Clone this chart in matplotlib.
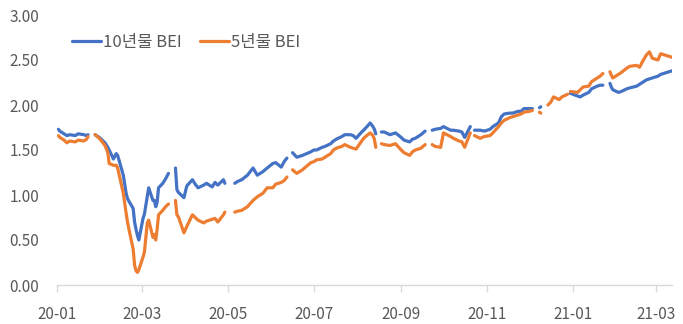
import matplotlib
matplotlib.use("Agg")
import matplotlib.pyplot as plt
import matplotlib.dates as mdates
import numpy as np
import pandas as pd

nan = np.nan

dates = [
    "2020-01-02", "2020-01-03", "2020-01-06", "2020-01-08", "2020-01-10", "2020-01-14", "2020-01-16",
    "2020-01-20", "2020-01-22", "2020-01-23", "2020-01-24", "2020-01-28", "2020-01-31", "2020-02-04",
    "2020-02-06", "2020-02-07", "2020-02-10", "2020-02-12", "2020-02-13", "2020-02-17", "2020-02-19",
    "2020-02-20", "2020-02-21", "2020-02-24", "2020-02-25", "2020-02-26", "2020-02-27", "2020-02-28",
    "2020-03-02", "2020-03-03", "2020-03-05", "2020-03-06", "2020-03-09", "2020-03-10", "2020-03-11",
    "2020-03-12", "2020-03-13", "2020-03-16", "2020-03-18", "2020-03-20", "2020-03-23", "2020-03-25",
    "2020-03-26", "2020-03-27", "2020-03-31", "2020-04-02", "2020-04-06", "2020-04-08", "2020-04-10",
    "2020-04-14", "2020-04-16", "2020-04-20", "2020-04-22", "2020-04-24", "2020-04-28", "2020-04-29",
    "2020-04-30", "2020-05-06", "2020-05-08", "2020-05-11", "2020-05-15", "2020-05-19", "2020-05-22",
    "2020-05-26", "2020-05-29", "2020-06-02", "2020-06-04", "2020-06-08", "2020-06-10", "2020-06-12",
    "2020-06-15", "2020-06-16", "2020-06-19", "2020-06-23", "2020-06-26", "2020-06-29", "2020-07-01",
    "2020-07-03", "2020-07-07", "2020-07-09", "2020-07-13", "2020-07-15", "2020-07-17", "2020-07-21",
    "2020-07-23", "2020-07-27", "2020-07-29", "2020-07-31", "2020-08-04", "2020-08-06", "2020-08-10",
    "2020-08-12", "2020-08-13", "2020-08-14", "2020-08-17", "2020-08-18", "2020-08-20", "2020-08-24",
    "2020-08-26", "2020-08-28", "2020-09-01", "2020-09-03", "2020-09-07", "2020-09-09", "2020-09-11",
    "2020-09-15", "2020-09-18", "2020-09-21", "2020-09-23", "2020-09-25", "2020-09-29", "2020-10-01",
    "2020-10-06", "2020-10-08", "2020-10-12", "2020-10-14", "2020-10-16", "2020-10-20", "2020-10-21",
    "2020-10-23", "2020-10-27", "2020-10-30", "2020-11-03", "2020-11-05", "2020-11-09", "2020-11-11",
    "2020-11-13", "2020-11-17", "2020-11-19", "2020-11-23", "2020-11-25", "2020-11-27", "2020-12-01",
    "2020-12-03", "2020-12-04", "2020-12-08", "2020-12-09", "2020-12-10", "2020-12-14", "2020-12-16",
    "2020-12-18", "2020-12-22", "2020-12-24", "2020-12-28", "2020-12-29", "2020-12-30", "2021-01-04",
    "2021-01-06", "2021-01-08", "2021-01-12", "2021-01-14", "2021-01-18", "2021-01-20", "2021-01-22",
    "2021-01-25", "2021-01-27", "2021-01-28", "2021-01-29", "2021-02-02", "2021-02-04", "2021-02-08",
    "2021-02-10", "2021-02-15", "2021-02-17", "2021-02-19", "2021-02-22", "2021-02-24", "2021-02-26",
    "2021-03-02", "2021-03-04", "2021-03-08", "2021-03-10", "2021-03-12",
]

bei10 = [
    1.73, 1.71, 1.68, 1.66, 1.67, 1.66, 1.68,
    1.67, 1.66, 1.67, nan, 1.67, 1.64, 1.58,
    1.53, 1.50, 1.40, 1.46, 1.44, 1.22, 1.02,
    0.96, 0.93, 0.85, 0.70, 0.62, 0.55, 0.50,
    0.74, 0.79, 0.98, 1.08, 0.94, 0.94, 0.87,
    0.92, 1.08, 1.13, 1.18, 1.24, nan, 1.30,
    1.06, 1.03, 0.97, 1.10, 1.17, 1.12, 1.08,
    1.11, 1.13, 1.09, 1.14, 1.11, 1.17, 1.13,
    nan, 1.13, 1.15, 1.17, 1.22, 1.30, 1.22,
    1.26, 1.30, 1.35, 1.36, 1.31, 1.37, 1.41,
    nan, 1.47, 1.42, 1.44, 1.46, 1.48, 1.50,
    1.50, 1.53, 1.54, 1.57, 1.60, 1.62, 1.65,
    1.67, 1.67, 1.66, 1.63, 1.70, 1.73, 1.80,
    1.76, 1.73, 1.68, nan, 1.70, 1.70, 1.67,
    1.68, 1.69, 1.64, 1.61, 1.59, 1.62, 1.63,
    1.67, 1.71, nan, 1.72, 1.73, 1.74, 1.76,
    1.72, 1.72, 1.71, 1.70, 1.64, 1.76, nan,
    1.72, 1.72, 1.71, 1.73, 1.76, 1.80, 1.87,
    1.90, 1.91, 1.91, 1.93, 1.93, 1.96, 1.96,
    1.96, nan, 1.97, 1.98, nan, nan, nan,
    nan, nan, nan, nan, nan, 2.13, 2.10,
    2.09, 2.11, 2.14, 2.18, 2.21, 2.22, 2.22,
    nan, 2.24, 2.20, 2.17, 2.14, 2.15, 2.18,
    2.19, 2.21, 2.23, 2.25, 2.28, 2.29, 2.30,
    2.32, 2.34, 2.36, 2.37, 2.38,
]

bei5 = [
    1.66, 1.64, 1.61, 1.58, 1.60, 1.59, 1.61,
    1.60, 1.62, 1.65, nan, 1.67, 1.63, 1.55,
    1.47, 1.35, 1.33, 1.33, 1.30, 1.02, 0.80,
    0.70, 0.62, 0.40, 0.22, 0.16, 0.14, 0.17,
    0.31, 0.37, 0.69, 0.72, 0.53, 0.56, 0.50,
    0.62, 0.78, 0.83, 0.87, 0.90, nan, 0.94,
    0.78, 0.76, 0.58, 0.65, 0.78, 0.75, 0.72,
    0.69, 0.71, 0.73, 0.74, 0.70, 0.78, 0.81,
    nan, 0.81, 0.82, 0.83, 0.87, 0.94, 0.98,
    1.02, 1.08, 1.08, 1.12, 1.14, 1.16, 1.20,
    nan, 1.28, 1.24, 1.28, 1.32, 1.36, 1.37,
    1.39, 1.40, 1.42, 1.46, 1.50, 1.52, 1.54,
    1.56, 1.53, 1.52, 1.51, 1.60, 1.64, 1.69,
    1.66, 1.62, 1.53, nan, 1.57, 1.56, 1.55,
    1.56, 1.57, 1.50, 1.47, 1.44, 1.48, 1.50,
    1.52, 1.56, nan, 1.56, 1.54, 1.53, 1.69,
    1.65, 1.63, 1.60, 1.59, 1.53, 1.69, nan,
    1.66, 1.63, 1.65, 1.66, 1.69, 1.76, 1.80,
    1.83, 1.86, 1.87, 1.89, 1.90, 1.92, 1.93,
    1.94, nan, 1.92, 1.91, nan, 2.00, 2.03,
    2.09, 2.06, 2.09, 2.12, nan, 2.15, 2.14,
    2.17, 2.20, 2.21, 2.26, 2.30, 2.32, 2.35,
    nan, 2.37, 2.33, 2.30, 2.34, 2.36, 2.41,
    2.43, 2.44, 2.42, 2.48, 2.56, 2.59, 2.52,
    2.50, 2.57, 2.55, 2.54, 2.53,
]

labels = ["10년물 BEI", "5년물 BEI"]
yticks = [0.0, 0.5, 1.0, 1.5, 2.0, 2.5, 3.0]

plt.rcParams['font.family'] = ['Noto Sans CJK KR', 'DejaVu Sans']

x = pd.to_datetime(dates)
fig = plt.figure(figsize=(6.83, 3.24), dpi=100)
ax = fig.add_axes([57/683, 1-285/324, (672-57)/683, (285-15)/324])

ax.plot(x, bei10, color='#4472C4', lw=2.3, label=labels[0], solid_capstyle='round', solid_joinstyle='round')
ax.plot(x, bei5, color='#ED7D31', lw=2.3, label=labels[1], solid_capstyle='round', solid_joinstyle='round')

ax.set_ylim(0, 3.0)
ax.set_yticks(yticks)
ax.set_yticklabels([f"{v:.2f}" for v in yticks])
ax.set_xlim(pd.Timestamp("2020-01-01"), pd.Timestamp("2021-03-12"))
ax.xaxis.set_major_locator(mdates.MonthLocator(bymonth=[1, 3, 5, 7, 9, 11]))
ax.xaxis.set_major_formatter(mdates.DateFormatter("%y-%m"))

for s in ['top', 'right', 'left']:
    ax.spines[s].set_visible(False)
ax.spines['bottom'].set_color('#D9D9D9')
ax.spines['bottom'].set_linewidth(1.0)
ax.tick_params(axis='y', length=0, pad=13, labelsize=11, labelcolor='#595959')
ax.tick_params(axis='x', length=5, width=1.0, color='#D9D9D9', pad=10, labelsize=11, labelcolor='#595959')

leg = ax.legend(loc='upper left', bbox_to_anchor=(0.0, 0.985), ncol=2, frameon=False,
                handlelength=1.75, handletextpad=0.1, columnspacing=1.1, fontsize=12)
for t in leg.get_texts():
    t.set_color('#595959')

fig.savefig("out.png", dpi=100)
